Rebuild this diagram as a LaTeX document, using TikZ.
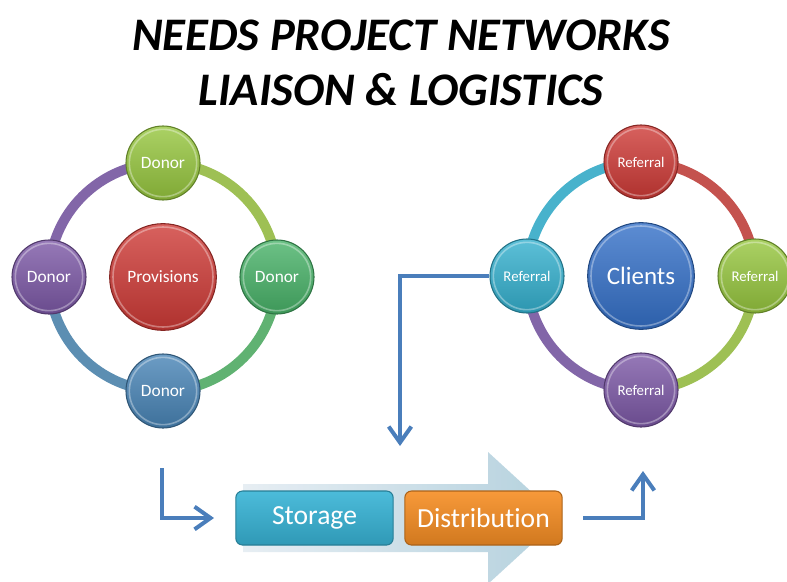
\documentclass[tikz,border=0pt]{standalone}
\usepackage{fontspec}
\setmainfont{Carlito}[Ligatures={NoCommon}]
\usetikzlibrary{arrows.meta,calc}
\definecolor{lnblue}{RGB}{74,126,187}
\definecolor{clime}{RGB}{150,198,62}
\definecolor{cgreen}{RGB}{72,178,104}
\definecolor{cblue}{RGB}{72,132,182}
\definecolor{cpurple}{RGB}{124,88,166}
\definecolor{cred}{RGB}{206,58,54}
\definecolor{ccyan}{RGB}{52,176,206}
\definecolor{cclient}{RGB}{52,112,200}
\definecolor{aLime}{RGB}{158,192,84}
\definecolor{aGreen}{RGB}{96,178,114}
\definecolor{aBlue}{RGB}{92,142,178}
\definecolor{aPurple}{RGB}{130,102,168}
\definecolor{aRed}{RGB}{196,82,78}
\definecolor{aCyan}{RGB}{72,178,204}
\definecolor{cstore}{RGB}{56,180,214}
\definecolor{cdist}{RGB}{246,142,36}
\tikzset{
  ball/.style={circle, inner sep=0pt, text=white, draw=#1!65!black, line width=0.8pt,
    top color=#1!80!white, bottom color=#1!85!black,
    path picture={\draw[white, opacity=0.35, line width=1.2pt]
      let \p1=(path picture bounding box.north), \p2=(path picture bounding box.center),
          \n1={veclen(\x1-\x2,\y1-\y2)-2.5pt} in (\p2) circle[radius=\n1];}},
  small/.style={ball=#1, minimum size=55.5pt},
  big/.style={ball=#1, minimum size=80pt},
  ring/.style={line width=7.5pt, draw=#1},
  conn/.style={draw=lnblue, line width=3pt, -{Straight Barb[length=12pt,width=17pt,line width=3pt]}},
  stagebox/.style={rectangle, rounded corners=5pt, minimum width=118pt, minimum height=40.5pt,
    text=white, font=\fontsize{20.7pt}{24pt}\selectfont, inner sep=0pt, line width=0.8pt,
    draw=#1!70!black, top color=#1!90!white, bottom color=#1!85!black},
}
\begin{document}
\begin{tikzpicture}[x=0.75pt,y=-0.75pt]
\useasboundingbox (0,0) rectangle (787,581);
% title
\node[font=\fontsize{35pt}{41.25pt}\selectfont\bfseries\itshape, align=center] (title) at (401,63)
  {NEEDS PROJECT NETWORKS\\LIAISON \& LOGISTICS};
% big background arrow
\begin{scope}
\clip (0,0) rectangle (787,581);
\shade[left color={rgb,255:red,228;green,236;blue,242}, right color={rgb,255:red,172;green,204;blue,218}, opacity=0.9]
  (243,484) -- (488,484) -- (488,452) -- (560,518) -- (488,584) -- (488,552) -- (243,552) -- cycle;
\end{scope}
% left cycle
\coordinate (L) at (163,277);
\draw[ring=aLime]   (L) ++(-90:114) arc[start angle=-90, end angle=0, radius=114];
\draw[ring=aGreen]  (L) ++(0:114) arc[start angle=0, end angle=90, radius=114];
\draw[ring=aBlue]   (L) ++(90:114) arc[start angle=90, end angle=180, radius=114];
\draw[ring=aPurple] (L) ++(180:114) arc[start angle=180, end angle=270, radius=114];
\node[big=cred, font=\fontsize{13pt}{14pt}\selectfont] (prov) at (L) {Provisions};
\node[small=clime, font=\fontsize{13pt}{14pt}\selectfont] (dT) at (163,163) {Donor};
\node[small=cgreen, font=\fontsize{13pt}{14pt}\selectfont] (dR) at (277,277) {Donor};
\node[small=cblue, font=\fontsize{13pt}{14pt}\selectfont] (dB) at (163,391) {Donor};
\node[small=cpurple, font=\fontsize{13pt}{14pt}\selectfont] (dL) at (49,277) {Donor};
% right cycle
\coordinate (R) at (641,276);
\draw[ring=aRed]    (R) ++(-90:114) arc[start angle=-90, end angle=0, radius=114];
\draw[ring=aLime]   (R) ++(0:114) arc[start angle=0, end angle=90, radius=114];
\draw[ring=aPurple] (R) ++(90:114) arc[start angle=90, end angle=180, radius=114];
\draw[ring=aCyan]   (R) ++(180:114) arc[start angle=180, end angle=270, radius=114];
\node[big=cclient, font=\fontsize{18.75pt}{20pt}\selectfont] (cl) at (R) {Clients};
\node[small=cred, font=\fontsize{11.1pt}{13pt}\selectfont] (rT) at (641,162) {Referral};
\node[small=clime, font=\fontsize{11.1pt}{13pt}\selectfont] (rR) at (755,276) {Referral};
\node[small=cpurple, font=\fontsize{11.1pt}{13pt}\selectfont] (rB) at (641,390) {Referral};
\node[small=ccyan, font=\fontsize{11.1pt}{13pt}\selectfont] (rL) at (527,276) {Referral};
% stage boxes
\node[stagebox=cstore] (st) at (314.5,518) {Storage};
\node[stagebox=cdist] (di) at (483.5,518) {Distribution};
% connectors
\coordinate (c1) at (400,446);
\draw[conn] (rL.west) -| (c1);
\coordinate (a1) at (162,468);
\coordinate (a2) at (214,518);
\draw[conn] (a1) |- (a2);
\coordinate (b1) at (583,518);
\coordinate (b2) at (643,471);
\draw[conn] (b1) -| (b2);
\end{tikzpicture}
\end{document}
